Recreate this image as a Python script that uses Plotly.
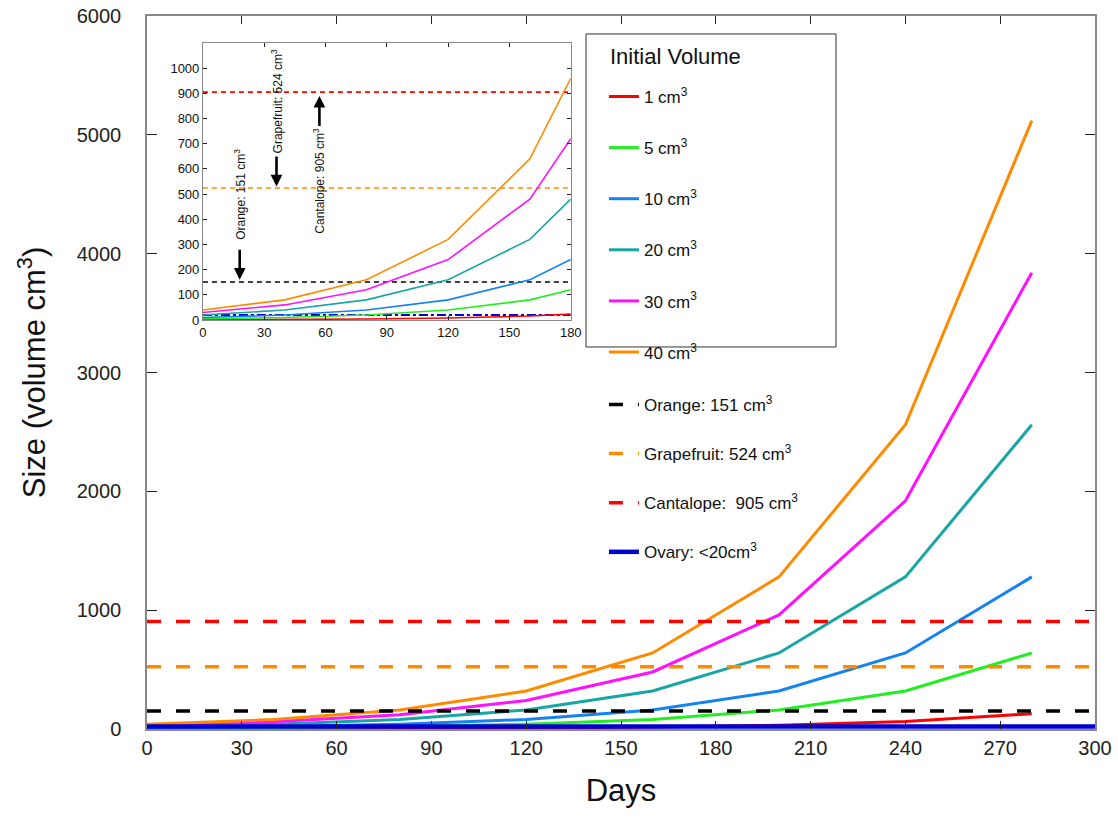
import plotly.graph_objects as go

# ---------------- data ----------------
main_days = [0, 40, 80, 120, 160, 200, 240, 280]
vol_1 = [1, 2, 4, 8, 16, 32, 64, 128]
vol_5 = [5, 10, 20, 40, 80, 160, 320, 640]
vol_10 = [10, 20, 40, 80, 160, 320, 640, 1280]
vol_20 = [20, 40, 80, 160, 320, 640, 1280, 2560]
vol_30 = [30, 60, 120, 240, 480, 960, 1920, 3840]
vol_40 = [40, 80, 160, 320, 640, 1280, 2560, 5120]

inset_days = [0, 40, 80, 120, 160, 180]
in_1 = [1, 2, 4, 8, 16, 24]
in_5 = [5, 10, 20, 40, 80, 120]
in_10 = [10, 20, 40, 80, 160, 240]
in_20 = [20, 40, 80, 160, 320, 480]
in_30 = [30, 60, 120, 240, 480, 720]
in_40 = [40, 80, 160, 320, 640, 960]

series_labels = ["1 cm<sup>3</sup>", "5 cm<sup>3</sup>", "10 cm<sup>3</sup>",
                 "20 cm<sup>3</sup>", "30 cm<sup>3</sup>", "40 cm<sup>3</sup>"]
series_colors = ["#ff0000", "#22ee22", "#1482f0", "#17a5a5", "#ff10ff", "#ff8a00"]

fruit_names = ["Orange: 151 cm<sup>3</sup>", "Grapefruit: 524 cm<sup>3</sup>",
               "Cantalope:  905 cm<sup>3</sup>"]
fruit_values = [151, 524, 905]
fruit_colors = ["#000000", "#ff8a00", "#ff0000"]
ovary_label = "Ovary: <20cm<sup>3</sup>"
ovary_value = 20
ovary_color = "#0000d0"

main_range_x = [0, 300]
main_range_y = [0, 6000]
inset_range_x = [0, 180]
inset_range_y = [0, 1100]

FONT = "Liberation Sans, Arial, Helvetica, sans-serif"

fig = go.Figure()

main_series = [vol_1, vol_5, vol_10, vol_20, vol_30, vol_40]
inset_series = [in_1, in_5, in_10, in_20, in_30, in_40]

# ---------------- main traces ----------------
for lab, col, ys in zip(series_labels, series_colors, main_series):
    fig.add_trace(go.Scatter(
        x=main_days, y=ys, mode="lines", name=lab, legendgroup=lab,
        line=dict(color=col, width=3), legend="legend"))

for lab, val, col in zip(fruit_names, fruit_values, fruit_colors):
    fig.add_trace(go.Scatter(
        x=main_range_x, y=[val, val], mode="lines", name=lab, legendgroup=lab,
        line=dict(color=col, width=3.5, dash="14px,15px"), legend="legend2"))

fig.add_trace(go.Scatter(
    x=main_range_x, y=[ovary_value, ovary_value], mode="lines", name=ovary_label,
    legendgroup="ovary", line=dict(color=ovary_color, width=4.5), legend="legend2"))

# ---------------- inset traces ----------------
for val, col in zip(fruit_values, fruit_colors):
    fig.add_trace(go.Scatter(
        x=inset_range_x, y=[val, val], mode="lines", showlegend=False,
        line=dict(color=col, width=1.6, dash="5px,4px"), xaxis="x2", yaxis="y2"))

fig.add_trace(go.Scatter(
    x=inset_range_x, y=[ovary_value, ovary_value], mode="lines", showlegend=False,
    line=dict(color=ovary_color, width=2, dash="dashdot"), xaxis="x2", yaxis="y2"))

for col, ys in zip(series_colors, inset_series):
    fig.add_trace(go.Scatter(
        x=inset_days, y=ys, mode="lines", showlegend=False,
        line=dict(color=col, width=1.6), xaxis="x2", yaxis="y2"))

# ---------------- annotations ----------------
ann = []
texts = [("Orange: 151 cm<sup>3</sup>", 18, 500), ("Grapefruit: 524 cm<sup>3</sup>", 36, 870),
         ("Cantalope: 905 cm<sup>3</sup>", 57, 555)]
for t, xx, yy in texts:
    ann.append(dict(text=t, x=xx, y=yy, xref="x2", yref="y2", showarrow=False,
                    textangle=-90, font=dict(size=12, color="#111", family=FONT)))
arrows = [(18, 160, 285), (36, 530, 655), (57, 890, 765)]
for xx, head, tail in arrows:
    ann.append(dict(text="", x=xx, y=head, ax=xx, ay=tail, xref="x2", yref="y2",
                    axref="x2", ayref="y2", showarrow=True, arrowhead=2,
                    arrowsize=0.9, arrowwidth=2.6, arrowcolor="#000"))

# legend title (as text) and legend frame
ann.append(dict(text="Initial Volume", x=0.4863, y=0.9425, xref="paper", yref="paper",
                xanchor="left", yanchor="middle", showarrow=False,
                font=dict(size=22, color="#111", family=FONT)))
shapes = [dict(type="rect", xref="paper", yref="paper", x0=0.4631, x1=0.7268,
               y0=0.5358, y1=0.9748, line=dict(color="#333", width=1),
               fillcolor="rgba(0,0,0,0)", layer="above")]

axis_common = dict(showgrid=False, zeroline=False, showline=True, linecolor="#888",
                   mirror="ticks", ticks="inside", tickcolor="#222", automargin=False)

fig.update_layout(
    width=1118, height=826,
    margin=dict(l=147, r=23, t=16, b=97),
    paper_bgcolor="white", plot_bgcolor="white",
    font=dict(family=FONT, color="#111"),
    xaxis=dict(range=main_range_x, tickvals=list(range(0, 301, 30)), ticklen=8,
               linewidth=1.5, tickfont=dict(size=20, color="#222"),
               title=dict(text="Days", font=dict(size=31), standoff=22),
               **axis_common),
    yaxis=dict(range=main_range_y, tickvals=list(range(0, 6001, 1000)), ticklen=10,
               linewidth=1.5, tickfont=dict(size=20, color="#222"), ticklabelstandoff=20,
               title=dict(text="Size (volume cm<sup>3</sup>)", font=dict(size=31), standoff=22),
               **axis_common),
    xaxis2=dict(domain=[0.059, 0.447], anchor="y2", range=inset_range_x,
                tickvals=list(range(0, 181, 30)), ticklen=4, linewidth=1,
                tickfont=dict(size=13), **axis_common),
    yaxis2=dict(domain=[0.5736, 0.9621], anchor="x2", range=inset_range_y,
                tickvals=list(range(0, 1001, 100)), ticklen=4, linewidth=1,
                tickfont=dict(size=13), **axis_common),
    legend=dict(x=0.482, y=0.9117, xanchor="left", yanchor="top",
                bgcolor="rgba(0,0,0,0)", borderwidth=0,
                font=dict(size=17), tracegroupgap=26),
    legend2=dict(x=0.482, y=0.4797, xanchor="left", yanchor="top",
                 bgcolor="rgba(0,0,0,0)", borderwidth=0,
                 font=dict(size=17), tracegroupgap=24),
    annotations=ann,
    shapes=shapes,
)

fig.write_html("out.html", config={"displayModeBar": False},
               post_script="document.body.style.margin='0';document.body.style.overflow='hidden';")
